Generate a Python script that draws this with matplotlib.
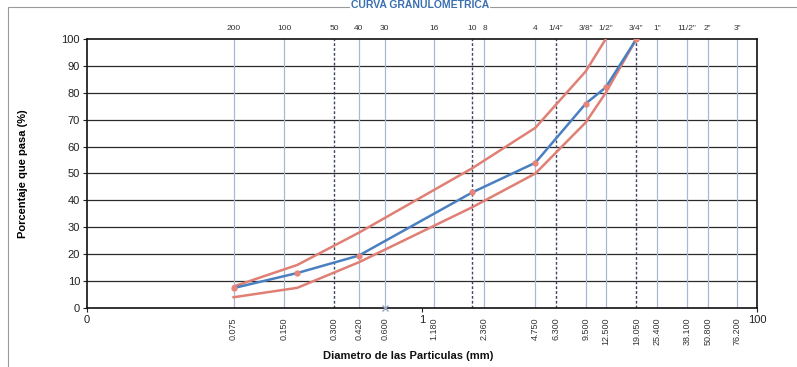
import matplotlib
matplotlib.use("Agg")
import matplotlib.pyplot as plt
from matplotlib.patches import Rectangle

# ---- data ----
sieve_names = ["200", "100", "50", "40", "30", "16", "10", "8", "4", "1/4\"", "3/8\"", "1/2\"",
               "3/4\"", "1\"", "11/2\"", "2\"", "3\""]
sieve_mm = [0.075, 0.150, 0.300, 0.420, 0.600, 1.180, 2.000, 2.360, 4.750, 6.300, 9.500,
            12.500, 19.050, 25.400, 38.100, 50.800, 76.200]
sieve_dashed = [False, False, True, False, False, False, True, False, False, True, False,
                False, True, False, False, False, False]
bottom_labels = ["0.075", "0.150", "0.300", "0.420", "0.600", "1.180", "", "2.360", "4.750",
                 "6.300", "9.500", "12.500", "19.050", "25.400", "38.100", "50.800", "76.200"]

sample_d = [0.075, 0.180, 0.420, 2.000, 4.750, 9.500, 12.500, 19.050]
sample_pass = [7.4, 13.0, 19.5, 43.0, 54.0, 76.0, 82.0, 100.0]

upper_d = [0.075, 0.180, 0.420, 2.000, 4.750, 9.500, 12.500]
upper_pass = [8.0, 16.0, 28.0, 52.0, 67.0, 88.0, 100.0]

lower_d = [0.075, 0.180, 0.420, 2.000, 4.750, 9.500, 12.500, 19.050]
lower_pass = [4.0, 7.5, 17.0, 37.5, 50.0, 69.0, 80.0, 100.0]

extra_d = [0.600]
extra_pass = [0.0]

yticks = [0, 10, 20, 30, 40, 50, 60, 70, 80, 90, 100]
xticks = [0.01, 1, 100]
xtick_labels = ["0", "1", "100"]

# ---- figure ----
fig = plt.figure(figsize=(7.97, 3.67), dpi=100)
plt.rcParams['font.family'] = ['Liberation Sans', 'DejaVu Sans']

# outer frame
fig.patches.append(Rectangle((8/797, -0.01), 1.0, 1 - 7/367 + 0.01, transform=fig.transFigure,
                             fill=False, edgecolor="#9a9a9a", linewidth=0.8))

ax = fig.add_axes([87/797, 1 - 308/367, (757 - 87)/797, (308 - 39)/367])
ax.set_xscale("log")
ax.set_xlim(0.01, 100)
ax.set_ylim(0, 100)

# grid
for y in yticks[1:-1]:
    ax.axhline(y, color="#2a2a2a", linewidth=0.9, zorder=1)
for d, dash in zip(sieve_mm, sieve_dashed):
    if dash:
        ax.axvline(d, color="#3c4660", linewidth=1.0, linestyle=(0, (2, 1.5)), zorder=1)
    else:
        ax.axvline(d, color="#a8b8d0", linewidth=0.9, zorder=1)

# curves
ax.plot(upper_d, upper_pass, color="#e07f74", linewidth=1.8, zorder=3)
ax.plot(lower_d, lower_pass, color="#e07f74", linewidth=1.8, zorder=3)
ax.plot(sample_d, sample_pass, color="#4a7fc0", linewidth=1.8, zorder=4,
        marker="o", markersize=3.5, markerfacecolor="#e8857a", markeredgecolor="#e8857a")
ax.plot(extra_d, extra_pass, linestyle="none", marker="x", markersize=4, color="#9aa6c0",
        zorder=5, clip_on=False)

ax.set_yticks(yticks)
ax.set_yticklabels([str(v) for v in yticks], fontsize=8)
ax.set_xticks(xticks)
ax.set_xticklabels(xtick_labels, fontsize=8)
ax.minorticks_off()
ax.tick_params(axis="both", length=3, width=0.8, pad=2, colors="#222222")
for s in ax.spines.values():
    s.set_linewidth(1.2)
    s.set_color("#111111")

# top sieve names
for name, d in zip(sieve_names, sieve_mm):
    ax.text(d, 102.5, name, ha="center", va="bottom", fontsize=6, color="#333333")
# bottom sieve sizes (rotated)
for lab, d in zip(bottom_labels, sieve_mm):
    if lab:
        ax.text(d, -3.5, lab, ha="center", va="top", rotation=90, fontsize=6.5,
                color="#333333")

ax.set_ylabel("Porcentaje que pasa (%)", fontsize=8, fontweight="bold", labelpad=24)
fig.text(408/797, 1 - 356/367, "Diametro de las Particulas (mm)", ha="center", va="center",
         fontsize=8, fontweight="bold", color="#111111")
fig.text(420/797, 1 - 0.5/367, "CURVA GRANULOMETRICA", ha="center", va="top",
         fontsize=7.5, fontweight="bold", color="#3a6fb0",
         bbox=dict(facecolor="white", edgecolor="none", pad=0.5))

fig.savefig("out.png", dpi=100)
